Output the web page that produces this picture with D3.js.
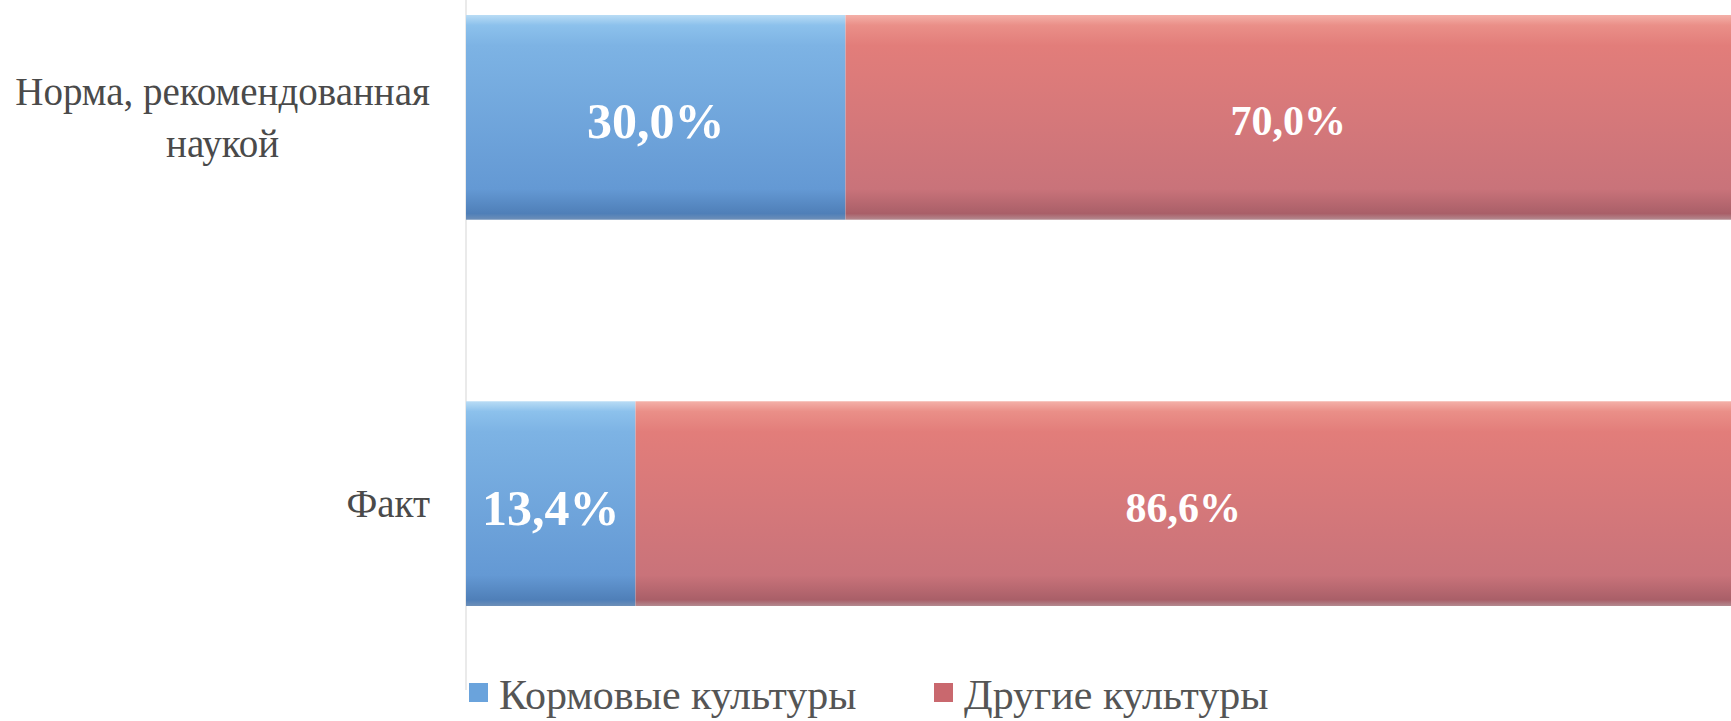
<!DOCTYPE html>
<html><head><meta charset="utf-8">
<script src="https://cdn.jsdelivr.net/npm/d3@7"></script>
<style>html,body{margin:0;padding:0;background:#fff;overflow:hidden}</style>
</head><body>
<svg id="c" width="1731" height="721"></svg>
<script>
const categories = [["Норма, рекомендованная", "наукой"], ["Факт"]];
const categoryKeys = ["norm", "fact"];
const seriesNames = ["Кормовые культуры", "Другие культуры"];
const feedValues = [0.300, 0.134];
const otherValues = [0.700, 0.866];

const FONT = "'Liberation Serif','DejaVu Serif',serif";
const svg = d3.select("#c");
const defs = svg.append("defs");
function grad(id, stops) {
  const g = defs.append("linearGradient").attr("id", id).attr("x1",0).attr("y1",0).attr("x2",0).attr("y2",1);
  stops.forEach(s => g.append("stop").attr("offset", s[0]).attr("stop-color", s[1]));
}
grad("gBlue", [[0,"#b9dcf5"],[0.05,"#8cc1ec"],[0.15,"#7db3e4"],[0.85,"#6499d4"],[0.97,"#4f7fb8"],[1,"#6d8fb8"]]);
grad("gRed", [[0,"#f4b0a8"],[0.05,"#ea8f88"],[0.15,"#e27d7a"],[0.85,"#c9737a"],[0.97,"#a95f68"],[1,"#b48a90"]]);
const fills = ["url(#gBlue)", "url(#gRed)"];
const legendColors = ["#6aa3dc", "#c9686e"];

const x = d3.scaleLinear().domain([0, 1]).range([466, 1731]);
const y = d3.scaleBand().domain(categoryKeys).range([15, 606]).paddingInner(0.47);

svg.append("line").attr("x1", x(0)).attr("x2", x(0)).attr("y1", 0).attr("y2", 690)
  .attr("stroke", "#e3e3e3").attr("stroke-width", 1.5);

const stackData = categoryKeys.map((k, i) => ({key: k, feed: feedValues[i], other: otherValues[i]}));
const stack = d3.stack().keys(["feed", "other"])(stackData);

stack.forEach((layer, si) => {
  const g = svg.append("g");
  g.selectAll("rect").data(layer).join("rect")
    .attr("x", d => x(d[0]))
    .attr("y", d => y(d.data.key))
    .attr("width", d => x(d[1]) - x(d[0]))
    .attr("height", y.bandwidth())
    .attr("fill", fills[si]);
  g.selectAll("text").data(layer).join("text")
    .attr("x", d => (x(d[0]) + x(d[1])) / 2)
    .attr("y", d => y(d.data.key) + y.bandwidth() / 2 + 4)
    .attr("text-anchor", "middle")
    .attr("dominant-baseline", "central")
    .attr("font-family", FONT)
    .attr("font-weight", "bold")
    .attr("font-size", si === 0 ? 50 : 42)
    .attr("fill", "#fff")
    .text(d => d3.format(".1f")((d[1] - d[0]) * 100).replace(".", ",") + "%");
});

const labelRight = 430;
categoryKeys.forEach((k, i) => {
  const lines = categories[i];
  const cy = y(k) + y.bandwidth() / 2;
  const lh = 52;
  const t = svg.append("text")
    .attr("font-family", FONT)
    .attr("font-size", 39)
    .attr("fill", "#4a4a4a")
    .attr("text-anchor", "middle");
  const spans = lines.map((ln, j) => t.append("tspan")
      .attr("y", cy + (j - (lines.length - 1) / 2) * lh)
      .attr("dominant-baseline", "central")
      .text(ln));
  const maxW = d3.max(spans, s => s.node().getComputedTextLength());
  spans.forEach(s => s.attr("x", labelRight - maxW / 2));
});

const legendX = [469, 934];
seriesNames.forEach((n, i) => {
  const g = svg.append("g");
  g.append("rect").attr("x", legendX[i]).attr("y", 683).attr("width", 19).attr("height", 19)
    .attr("fill", legendColors[i]);
  g.append("text").attr("x", legendX[i] + 30).attr("y", 709)
    .attr("font-family", FONT).attr("font-size", 42)
    .attr("fill", "#555").text(n);
});
</script>
</body></html>
